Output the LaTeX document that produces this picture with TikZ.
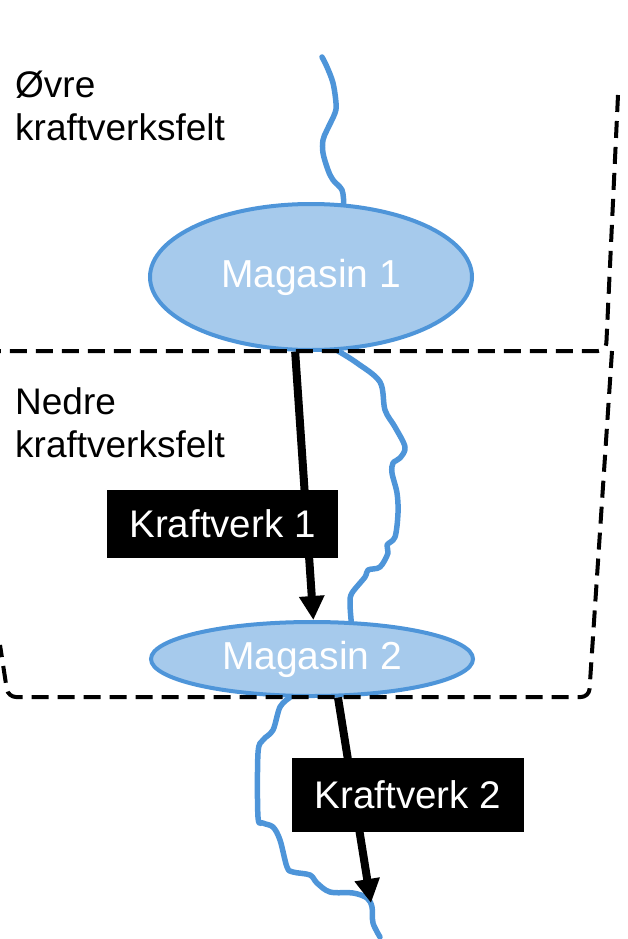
\documentclass[tikz,border=0pt]{standalone}
\usepackage{fontspec}
\setmainfont{Liberation Sans}
\usetikzlibrary{shapes.geometric,arrows.meta}
\definecolor{lakefill}{HTML}{A6CAEC}
\definecolor{lakeline}{HTML}{4E95D9}
\begin{document}
\begin{tikzpicture}[x=1pt,y=-1pt,
  lake/.style={ellipse, draw=lakeline, fill=lakefill, line width=4pt, inner sep=0pt,
    text=white, font=\fontsize{39}{40}\selectfont},
  plant/.style={rectangle, fill=black, text=white, inner sep=0pt,
    font=\fontsize{38.5}{40}\selectfont},
  river/.style={draw=lakeline, line width=5.5pt, line join=round, line cap=round},
  flow/.style={line width=8pt, -{Triangle[width=24pt,length=24pt]}},
  field/.style={dash pattern=on 17pt off 9pt, line width=4pt, rounded corners=8pt},
  fieldlabel/.style={anchor=base west, inner sep=0pt, align=left,
    font=\fontsize{37}{43}\selectfont}]

\useasboundingbox (0,0) rectangle (627,939);

% reservoirs
\node[lake, minimum width=322pt, minimum height=146pt] (mag1) at (311,277) {Magasin 1};
\node[lake, minimum width=322pt, minimum height=74pt] (mag2) at (312,659) {Magasin 2};

% river ends
\coordinate (src) at (322,57);
\coordinate (sea) at (380,937);

% natural river course
\draw[river] plot[smooth, tension=0.55] coordinates {(src) (327,67) (333,83) (336,103) (335,113)
  (327,130) (323,140) (323,153) (328,170) (333,180) (342,190) (mag1.66)};
\draw[river] plot[smooth, tension=0.55] coordinates {(mag1.290) (357,363) (380,382) (385,410)
  (395,427) (405,447) (400,458) (393,463) (392,473) (397,493) (398,513) (395,537) (387,545)
  (388,553) (380,567) (368,570) (365,577) (352,593) (350,603) (mag2.44)};
\draw[river] plot[smooth, tension=0.55] coordinates {(mag2.240) (280,707) (273,730) (263,740)
  (258,753) (258,817) (263,823) (273,827) (280,840) (287,867) (293,872) (310,875) (317,883)
  (330,892) (353,893) (367,898) (372,907) (373,923) (sea)};

% field boundaries
\draw[field] (618,95) -- (606,351) -- (0,351);
\draw[field] (612,351) -- (589,697) -- (8,697) -- (0,645);

% power station flows
\coordinate (out) at (371,903);
\draw[flow] (mag1.258) -- (mag2.88);
\draw[flow] (mag2.304) -- (out);

% power stations
\node[plant, minimum width=231pt, minimum height=68pt] (kv1) at (222.5,524) {Kraftverk 1};
\node[plant, minimum width=232pt, minimum height=74pt] (kv2) at (408,795) {Kraftverk 2};

% field labels
\node[fieldlabel] (upper) at (15,140) {Øvre\\kraftverksfelt};
\node[fieldlabel] (lower) at (15,457) {Nedre\\kraftverksfelt};
\end{tikzpicture}
\end{document}
